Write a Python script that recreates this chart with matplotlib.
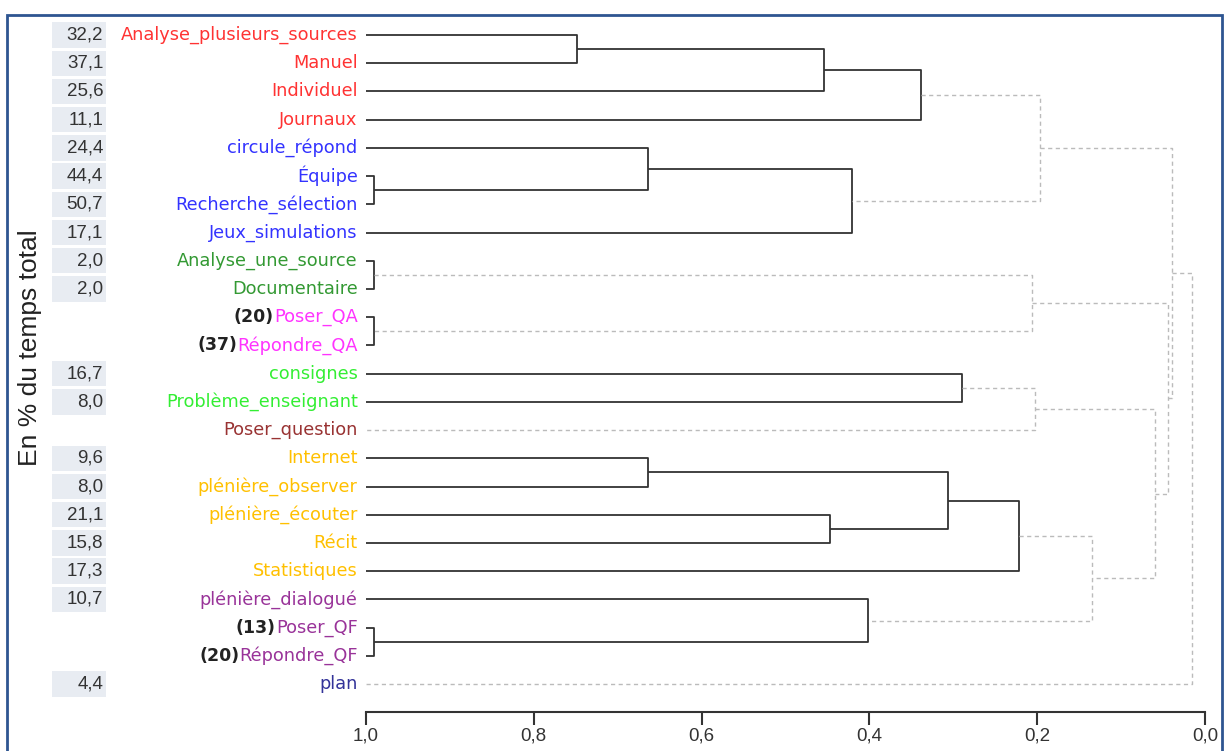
import matplotlib
matplotlib.use("Agg")
import matplotlib.pyplot as plt
from matplotlib.patches import Rectangle

plt.rcParams['font.family'] = ['Liberation Sans', 'DejaVu Sans']

# leaves, top to bottom
labels = ["Analyse_plusieurs_sources", "Manuel", "Individuel", "Journaux",
          "circule_répond", "Équipe", "Recherche_sélection", "Jeux_simulations",
          "Analyse_une_source", "Documentaire", "Poser_QA", "Répondre_QA",
          "consignes", "Problème_enseignant", "Poser_question",
          "Internet", "plénière_observer", "plénière_écouter", "Récit", "Statistiques",
          "plénière_dialogué", "Poser_QF", "Répondre_QF", "plan"]
label_colors = ["#FF3333"] * 4 + ["#3333FF"] * 4 + ["#339933"] * 2 + ["#FF33FF"] * 2 \
    + ["#33EE33"] * 2 + ["#993333"] + ["#FFC000"] * 5 + ["#993399"] * 3 + ["#333399"]
# % du temps total (None = pas de case)
pct = [32.2, 37.1, 25.6, 11.1, 24.4, 44.4, 50.7, 17.1, 2.0, 2.0, None, None,
       16.7, 8.0, None, 9.6, 8.0, 21.1, 15.8, 17.3, 10.7, None, None, 4.4]
counts = {10: "(20)", 11: "(37)", 21: "(13)", 22: "(20)"}

# merges: (child a, child b, similarity) -> new node ids from 24
merges = [(0, 1, 0.748), (24, 2, 0.454), (25, 3, 0.338),
          (5, 6, 0.991), (4, 27, 0.664), (28, 7, 0.421),
          (26, 29, 0.197),
          (8, 9, 0.991), (10, 11, 0.991), (31, 32, 0.206),
          (12, 13, 0.290), (34, 14, 0.203),
          (15, 16, 0.664), (17, 18, 0.447), (36, 37, 0.306), (38, 19, 0.222),
          (21, 22, 0.991), (20, 40, 0.402), (39, 41, 0.135),
          (35, 42, 0.060), (33, 43, 0.044), (30, 44, 0.039), (45, 23, 0.016)]
threshold = 0.21

W, H = 1225, 751
fig = plt.figure(figsize=(W / 100, H / 100), dpi=100)

top_px, spine_px, row0_px, step = 10, 712, 35, 28.22
y_top = (top_px - row0_px) / step
y_bot = (spine_px - row0_px) / step
ax = fig.add_axes([366 / W, (H - spine_px) / H, (1205 - 366) / W, (spine_px - top_px) / H])
ax.set_xlim(1.0, 0.0)
ax.set_ylim(y_bot, y_top)

n = len(labels)
ypos = {i: float(i) for i in range(n)}
hpos = {i: 1.0 for i in range(n)}
for k, (a, b, h) in enumerate(merges):
    node = n + k
    if h >= threshold:
        kw = dict(color="#333333", lw=1.3, solid_capstyle="butt")
    else:
        kw = dict(color="#BBBBBB", lw=1.0, linestyle=(0, (3, 2.5)))
    ax.plot([hpos[a], h, h, hpos[b]], [ypos[a], ypos[a], ypos[b], ypos[b]], **kw)
    ypos[node] = (ypos[a] + ypos[b]) / 2
    hpos[node] = h

# leaf labels
for i, lab in enumerate(labels):
    t = ax.annotate(lab, xy=(1.0, i), xytext=(-6, 0), textcoords="offset points",
                    ha="right", va="center", fontsize=12.8, color=label_colors[i],
                    family="DejaVu Sans", annotation_clip=False)
    if i in counts:
        ax.annotate(counts[i], xy=(0, 0.5), xycoords=t, xytext=(0, 0),
                    textcoords="offset points", ha="right", va="center",
                    fontsize=12.5, fontweight="bold", color="#222222",
                    family="DejaVu Sans")

for s in ["top", "left", "right"]:
    ax.spines[s].set_visible(False)
ax.spines["bottom"].set_color("#333333")
ax.spines["bottom"].set_linewidth(1.5)
ax.set_yticks([])
ax.set_xticks([1.0, 0.8, 0.6, 0.4, 0.2, 0.0])
ax.set_xticklabels(["1,0", "0,8", "0,6", "0,4", "0,2", "0,0"], fontsize=13.5, color="#333333")
ax.tick_params(axis="x", length=9, width=1.5, color="#333333", pad=2)

# % boxes
axb = fig.add_axes([52 / W, (H - spine_px) / H, (106 - 52) / W, (spine_px - top_px) / H])
axb.set_xlim(0, 1)
axb.set_ylim(y_bot, y_top)
rows = [i for i, v in enumerate(pct) if v is not None]
axb.barh(rows, 1.0, height=0.9, left=0, color="#E8ECF2")
for i in rows:
    axb.text(0.95, i, f"{pct[i]:.1f}".replace(".", ","), ha="right", va="center",
             fontsize=13.5, color="#333333")
axb.axis("off")

fig.text(30 / W, 1 - 348 / H, "En % du temps total", rotation=90, ha="center",
         va="center", fontsize=19, color="#222222")

fig.patches.append(Rectangle((6.5 / W, -0.02), (1222 - 6.5) / W, 1.02 - 15 / H,
                             transform=fig.transFigure, fill=False,
                             edgecolor="#2E5591", lw=2))

fig.savefig("out.png", dpi=100)
